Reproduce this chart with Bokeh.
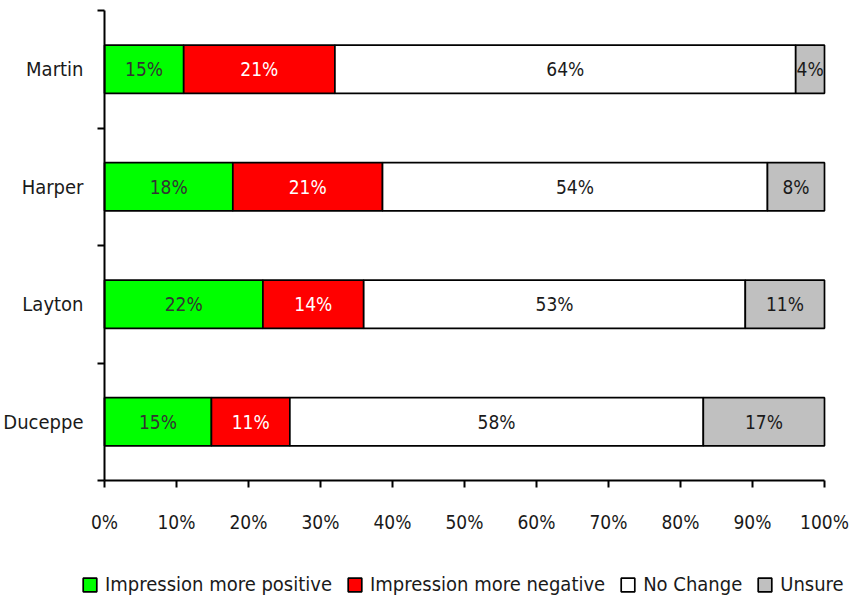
from bokeh.plotting import figure
from bokeh.models import (Range1d, LinearAxis, FixedTicker, Legend, LegendItem,
                          ColumnDataSource)
from bokeh.core.properties import value
from bokeh.embed import file_html
from bokeh.resources import INLINE

# ---------------- data ----------------
categories = ["Martin", "Harper", "Layton", "Duceppe"]
series_names = ["Impression more positive", "Impression more negative", "No Change", "Unsure"]
positive = [11, 18, 22, 15]
negative = [21, 21, 14, 11]
no_change = [64, 54, 53, 58]
unsure = [4, 8, 11, 17]
positive_labels = ["15%", "18%", "22%", "15%"]
negative_labels = ["21%", "21%", "14%", "11%"]
no_change_labels = ["64%", "54%", "53%", "58%"]
unsure_labels = ["4%", "8%", "11%", "17%"]
x_ticks = [0, 10, 20, 30, 40, 50, 60, 70, 80, 90, 100]
x_tick_labels = ["0%", "10%", "20%", "30%", "40%", "50%", "60%", "70%", "80%", "90%", "100%"]

# ---------------- layout / styling ----------------
W, H = 863, 601
FRAME_L, FRAME_R, FRAME_T, FRAME_B = 104, 824, 10, 480   # where the axes sit (px)
FONT = "DejaVu Sans Condensed"
FS = "19px"
LEGEND_FS = "20px"
fills = ["#00FF00", "#FF0000", "#FFFFFF", "#C0C0C0"]
text_colors = ["#333333", "#FFFFFF", "#1a1a1a", "#1a1a1a"]

n = len(categories)
ys = [n - i - 0.5 for i in range(n)]
series = [positive, negative, no_change, unsure]
labels = [positive_labels, negative_labels, no_change_labels, unsure_labels]
totals = [sum(s[i] for s in series) for i in range(n)]

# ranges extended so the whole canvas is the frame; axes are pinned at 0
xs = 100.0 / (FRAME_R - FRAME_L)
ysc = n / (FRAME_B - FRAME_T)
x_range = Range1d(-FRAME_L * xs, 100 + (W - FRAME_R) * xs)
y_range = Range1d(-(H - FRAME_B) * ysc, n + FRAME_T * ysc)

p = figure(width=W, height=H, x_range=x_range, y_range=y_range,
           output_backend="svg", toolbar_location=None,
           x_axis_type=None, y_axis_type=None,
           min_border_left=0, min_border_right=0, min_border_top=0, min_border_bottom=0)
p.outline_line_color = None
p.xgrid.visible = False
p.ygrid.visible = False
p.background_fill_color = "white"
p.border_fill_color = "white"

# x axis
xaxis = LinearAxis(ticker=FixedTicker(ticks=x_ticks), fixed_location=0, bounds=(0, 100),
                   major_label_overrides={t: l for t, l in zip(x_ticks, x_tick_labels)},
                   axis_line_width=2, axis_line_color="black",
                   major_tick_line_width=2, major_tick_in=0, major_tick_out=7,
                   minor_tick_line_color=None,
                   major_label_text_font=FONT, major_label_text_font_size=FS,
                   major_label_text_color="#1a1a1a", major_label_standoff=23)
p.add_layout(xaxis, "below")

# y axis: boundary ticks
ytick_axis = LinearAxis(ticker=FixedTicker(ticks=list(range(n + 1))), fixed_location=0,
                        bounds=(0, n),
                        major_label_overrides={t: "" for t in range(n + 1)},
                        axis_line_width=2, axis_line_color="black",
                        major_tick_line_width=2, major_tick_in=0, major_tick_out=7,
                        minor_tick_line_color=None, major_label_standoff=0,
                        major_label_text_font_size="1px")
p.add_layout(ytick_axis, "left")

# y axis: category names
ycat_axis = LinearAxis(ticker=FixedTicker(ticks=ys), fixed_location=0,
                       major_label_overrides={y: c for y, c in zip(ys, categories)},
                       axis_line_color=None, major_tick_line_color=None,
                       major_tick_in=0, major_tick_out=0,
                       minor_tick_line_color=None,
                       major_label_text_font=FONT, major_label_text_font_size="20px",
                       major_label_text_color="#1a1a1a", major_label_standoff=21)
p.add_layout(ycat_axis, "left")

items = []
left = [0.0] * n
for k, (vals, labs) in enumerate(zip(series, labels)):
    lefts = [left[i] for i in range(n)]
    rights = [left[i] + vals[i] * 100.0 / totals[i] for i in range(n)]
    src = ColumnDataSource(dict(y=ys, left=lefts, right=rights,
                                xm=[(a + b) / 2 for a, b in zip(lefts, rights)],
                                text=labs))
    r = p.hbar(y="y", left="left", right="right", height=0.41, source=src,
               fill_color=fills[k], line_color="black", line_width=1.7)
    p.text(x="xm", y="y", text="text", source=src, text_align="center",
           text_baseline="middle", text_font=value(FONT), text_font_size=value(FS),
           text_color=text_colors[k])
    items.append(LegendItem(label=series_names[k], renderers=[r]))
    left = rights

legend = Legend(items=items, orientation="horizontal", location=(81, 5),
                border_line_color=None, background_fill_alpha=0,
                label_text_font=FONT, label_text_font_size=LEGEND_FS,
                label_text_color="#1a1a1a",
                glyph_width=17, glyph_height=17, label_standoff=7, spacing=14,
                padding=0, margin=0)
p.add_layout(legend, "center")

open("out.html", "w").write(file_html(p, INLINE))
